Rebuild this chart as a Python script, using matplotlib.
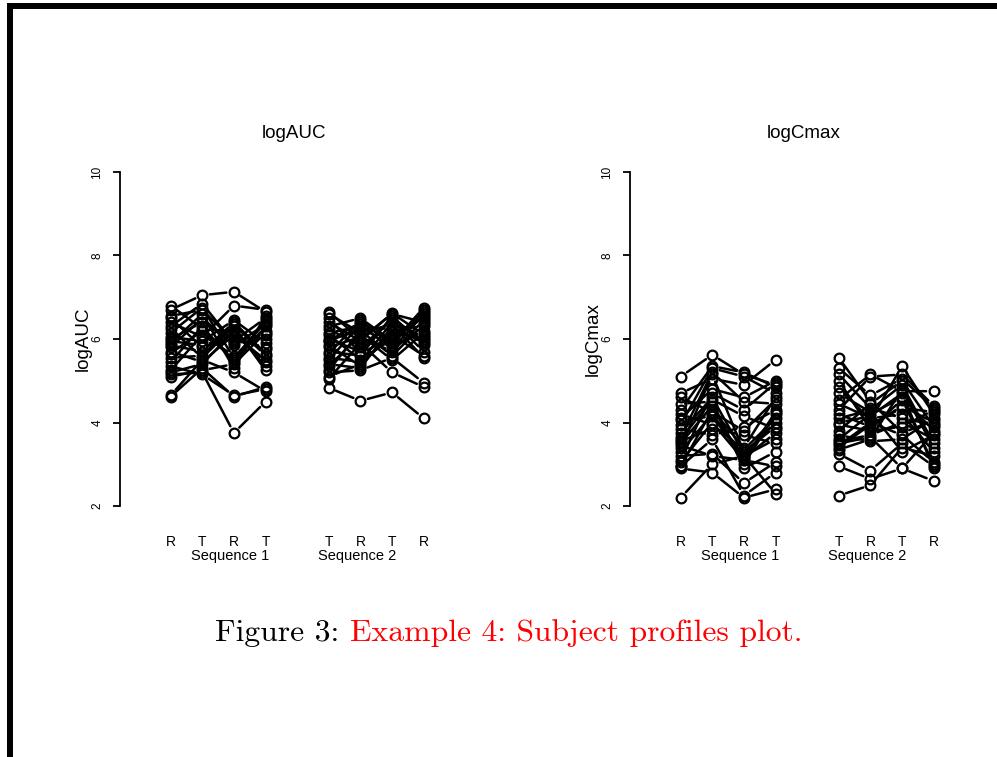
import matplotlib
matplotlib.use("Agg")
import matplotlib.pyplot as plt
from matplotlib.patches import Rectangle

# ---------------- data ----------------
period_labels_seq1 = ["R", "T", "R", "T"]
period_labels_seq2 = ["T", "R", "T", "R"]
sequence_names = ["Sequence 1", "Sequence 2"]
panel_titles = ["logAUC", "logCmax"]

# logAUC, sequence 1 (one list per period, one entry per subject)
auc_seq1 = [
    [4.62, 4.65, 5.15, 5.25, 5.20, 5.35, 5.45, 5.55, 5.65, 5.70, 5.80, 5.85, 5.90,
     5.95, 6.00, 6.05, 6.15, 6.25, 6.30, 6.40, 6.50, 6.55, 6.70, 6.80, 5.10],
    [5.30, 5.50, 5.20, 6.10, 5.40, 5.15, 6.30, 5.60, 6.20, 5.45, 6.50, 5.70, 6.60,
     5.85, 6.40, 5.95, 6.75, 5.55, 6.85, 6.05, 5.80, 6.70, 7.05, 6.25, 5.25],
    [4.62, 5.20, 3.75, 5.60, 6.20, 4.65, 5.45, 6.35, 5.50, 6.10, 5.85, 6.40, 5.30,
     6.05, 5.95, 6.45, 5.55, 6.30, 5.90, 6.80, 6.00, 5.95, 7.13, 6.15, 5.40],
    [4.85, 4.75, 4.50, 6.20, 5.35, 4.80, 6.30, 5.60, 6.45, 5.50, 6.35, 5.65, 6.55,
     5.75, 6.10, 5.90, 6.40, 5.25, 6.00, 6.70, 5.80, 6.50, 6.65, 5.45, 6.15],
]
# logAUC, sequence 2
auc_seq2 = [
    [4.83, 5.05, 5.10, 5.25, 5.40, 5.50, 5.55, 5.65, 5.70, 5.80, 5.85, 5.95, 6.00,
     6.10, 6.15, 6.25, 6.30, 6.40, 6.50, 6.60, 5.20, 5.95, 6.65, 5.35],
    [4.52, 5.90, 5.40, 6.20, 5.30, 6.35, 5.45, 6.45, 5.60, 6.05, 5.35, 6.40, 5.70,
     5.50, 6.30, 5.80, 6.50, 5.95, 5.65, 6.15, 5.25, 6.25, 6.00, 6.10],
    [4.72, 5.20, 6.10, 5.60, 6.30, 5.75, 6.40, 5.85, 6.55, 5.70, 6.20, 5.90, 6.50,
     6.00, 5.80, 6.45, 5.95, 6.62, 6.05, 6.35, 5.55, 6.25, 6.60, 5.50],
    [4.10, 4.85, 5.60, 6.35, 5.90, 6.60, 6.05, 6.70, 5.85, 6.45, 6.00, 6.75, 5.95,
     6.55, 6.20, 5.70, 6.65, 6.10, 6.50, 5.55, 4.95, 6.30, 6.40, 6.15],
]
# logCmax, sequence 1
cmax_seq1 = [
    [2.20, 2.90, 2.95, 3.05, 3.20, 3.30, 3.40, 3.50, 3.55, 3.65, 3.75, 3.85, 3.95,
     4.05, 4.10, 4.20, 4.30, 4.45, 4.60, 4.70, 5.10, 3.10, 3.45, 3.60, 2.95],
    [3.00, 2.80, 3.60, 4.00, 3.25, 4.20, 5.15, 4.40, 3.85, 5.20, 4.60, 3.70, 5.30,
     4.15, 4.80, 3.95, 5.35, 4.50, 4.25, 5.05, 5.62, 4.70, 3.20, 4.55, 4.30],
    [3.20, 2.20, 2.25, 3.10, 2.55, 3.20, 3.30, 3.00, 3.70, 4.50, 3.25, 3.90, 5.10,
     3.15, 4.60, 3.35, 5.20, 2.90, 3.80, 4.90, 5.15, 4.30, 3.10, 4.15, 3.40],
    [2.30, 2.40, 2.80, 2.95, 3.05, 3.60, 3.90, 4.20, 3.50, 4.45, 4.00, 4.30, 4.70,
     3.75, 5.00, 4.10, 4.85, 3.30, 4.55, 5.50, 4.90, 4.95, 4.25, 3.85, 4.60],
]
# logCmax, sequence 2
cmax_seq2 = [
    [2.25, 2.95, 3.25, 3.35, 3.45, 3.55, 3.60, 3.70, 3.80, 3.95, 4.10, 4.20, 4.30,
     4.45, 4.55, 4.70, 4.85, 5.00, 5.15, 5.30, 5.55, 3.50, 4.00, 3.40],
    [2.50, 2.65, 2.85, 3.60, 4.00, 3.70, 4.20, 3.55, 4.45, 3.80, 4.30, 3.90, 5.10,
     4.10, 5.15, 4.25, 4.05, 3.85, 4.35, 4.65, 4.50, 3.65, 4.15, 3.95],
    [3.40, 2.90, 3.50, 4.80, 3.70, 4.00, 4.60, 3.60, 5.00, 3.90, 4.90, 4.40, 5.15,
     4.20, 4.75, 3.30, 5.35, 4.55, 4.10, 5.05, 3.75, 2.90, 4.70, 4.35],
    [3.20, 2.60, 2.95, 3.40, 3.05, 3.60, 3.80, 4.10, 3.90, 4.30, 3.50, 4.00, 4.40,
     3.30, 4.75, 3.70, 4.20, 3.00, 3.95, 4.35, 4.05, 3.75, 2.90, 4.25],
]

seq1_positions = [1, 2, 3, 4]
seq2_positions = [6, 7, 8, 9]
seq_label_positions = [2.89, 6.91]
y_ticks = [2, 4, 6, 8, 10]

# ---------------- figure ----------------
W, H = 997, 757
fig = plt.figure(figsize=(W / 100, H / 100), dpi=100)
plt.rcParams["font.family"] = ["Liberation Sans", "DejaVu Sans"]

def fx(px):
    return px / W

def fy(py):
    return 1 - py / H

ax_h_top, ax_h_bot = 158.6, 519.4
panels = [
    (120, auc_seq1, auc_seq2, panel_titles[0]),
    (630, cmax_seq1, cmax_seq2, panel_titles[1]),
]

for left_px, s1, s2, title in panels:
    ax = fig.add_axes([fx(left_px), fy(ax_h_bot), 348 / W, (ax_h_bot - ax_h_top) / H])
    ax.set_xlim(-0.6, 10.4)
    ax.set_ylim(1.68, 10.32)
    for positions, data in ((seq1_positions, s1), (seq2_positions, s2)):
        n = len(data[0])
        for i in range(n):
            vals = [data[p][i] for p in range(4)]
            ax.plot(positions, vals, linestyle="none", marker="o", markersize=7,
                    markerfacecolor="none", markeredgecolor="black",
                    markeredgewidth=1.6, zorder=3)
            for k in range(3):
                ax.annotate("", xy=(positions[k + 1], vals[k + 1]),
                            xytext=(positions[k], vals[k]),
                            arrowprops=dict(arrowstyle="-", color="black", lw=1.8,
                                            shrinkA=5.5, shrinkB=5.5))
    for sp in ("top", "right", "bottom"):
        ax.spines[sp].set_visible(False)
    ax.spines["left"].set_bounds(2, 10)
    ax.spines["left"].set_linewidth(1.3)
    ax.set_yticks(y_ticks)
    ax.set_yticklabels([str(t) for t in y_ticks], rotation=90, va="center",
                       fontsize=8.5)
    ax.tick_params(axis="y", length=5, width=1.3, pad=7)
    ax.set_xticks(seq1_positions + seq2_positions)
    ax.set_xticklabels(period_labels_seq1 + period_labels_seq2, fontsize=10)
    ax.tick_params(axis="x", length=0, pad=11)
    for xpos, name in zip(seq_label_positions, sequence_names):
        ax.text(xpos, -0.1015, name, transform=ax.get_xaxis_transform(),
                ha="center", va="center", fontsize=10.5)
    ax.set_ylabel(title, fontsize=13.5)
    ax.yaxis.set_label_coords(-0.0805, 0.5)
    ax.set_title(title, fontsize=13.5, pad=14.6)

# page frame (black border on top and left)
fig.add_artist(Rectangle((fx(7), fy(9.3)), 1 - fx(7), 6 / H, transform=fig.transFigure,
                         facecolor="black", edgecolor="none"))
fig.add_artist(Rectangle((fx(6.7), 0), 6 / W, fy(3.3), transform=fig.transFigure,
                         facecolor="black", edgecolor="none"))

# caption
cap_font = dict(family="cmr10", fontsize=22.8)
t1 = fig.text(fx(215), fy(633), "Figure 3: ", color="black", va="center", ha="left",
              **cap_font)
fig.canvas.draw()
bb = t1.get_window_extent()
fig.text(bb.x1 / W, fy(633), "Example 4: Subject profiles plot.", color="red",
         va="center", ha="left", **cap_font)

fig.savefig("out.png", dpi=100)
